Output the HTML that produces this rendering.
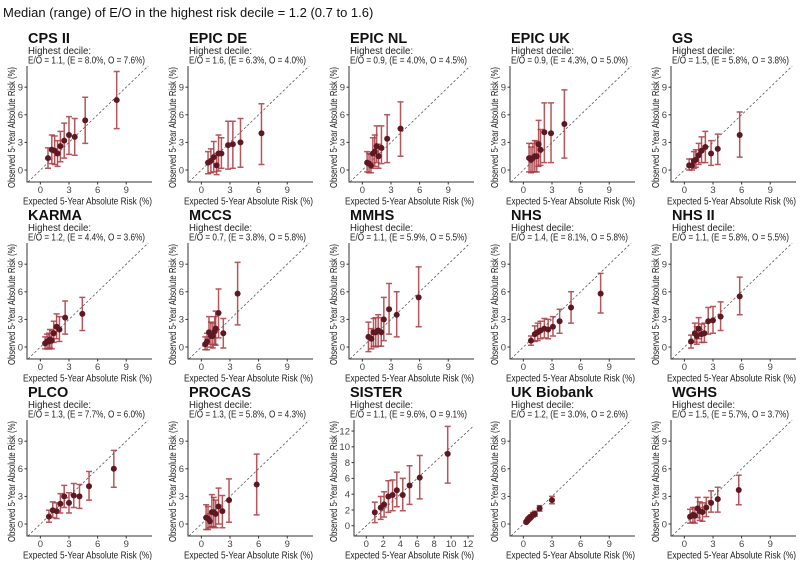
<!DOCTYPE html>
<html><head><meta charset="utf-8">
<style>
body{margin:0;background:#fff;width:800px;height:560px;overflow:hidden;font-family:"Liberation Sans",sans-serif;}
svg text{font-family:"Liberation Sans",sans-serif;}
</style></head>
<body>
<svg id="chart" width="800" height="560" viewBox="0 0 800 560" xmlns="http://www.w3.org/2000/svg">
<text x="3" y="17" font-size="13" fill="#111">Median (range) of E/O in the highest risk decile = 1.2 (0.7 to 1.6)</text>
</svg>
<script>
const cohorts = ["CPS II","EPIC DE","EPIC NL","EPIC UK","GS","KARMA","MCCS","MMHS","NHS","NHS II","PLCO","PROCAS","SISTER","UK Biobank","WGHS"];
const subtitles = ["E/O = 1.1, (E = 8.0%, O = 7.6%)","E/O = 1.6, (E = 6.3%, O = 4.0%)","E/O = 0.9, (E = 4.0%, O = 4.5%)","E/O = 0.9, (E = 4.3%, O = 5.0%)","E/O = 1.5, (E = 5.8%, O = 3.8%)","E/O = 1.2, (E = 4.4%, O = 3.6%)","E/O = 0.7, (E = 3.8%, O = 5.8%)","E/O = 1.1, (E = 5.9%, O = 5.5%)","E/O = 1.4, (E = 8.1%, O = 5.8%)","E/O = 1.1, (E = 5.8%, O = 5.5%)","E/O = 1.3, (E = 7.7%, O = 6.0%)","E/O = 1.3, (E = 5.8%, O = 4.3%)","E/O = 1.1, (E = 9.6%, O = 9.1%)","E/O = 1.2, (E = 3.0%, O = 2.6%)","E/O = 1.5, (E = 5.7%, O = 3.7%)"];
const expected = [
[0.8,1.2,1.5,1.8,2.1,2.5,3.0,3.6,4.7,8.0],
[0.7,1.0,1.3,1.6,1.8,2.1,2.8,3.3,4.1,6.3],
[0.5,0.7,0.9,1.1,1.3,1.5,1.7,2.0,2.6,4.0],
[0.6,0.8,1.0,1.2,1.4,1.6,1.8,2.2,2.9,4.3],
[0.5,0.8,1.0,1.2,1.5,1.8,2.2,2.8,3.5,5.8],
[0.5,0.7,0.9,1.0,1.2,1.4,1.7,2.0,2.6,4.4],
[0.4,0.6,0.8,1.0,1.2,1.4,1.5,1.8,2.3,3.8],
[0.64,0.95,1.17,1.4,1.66,1.98,2.25,2.8,3.6,5.9],
[0.8,1.2,1.5,1.8,2.2,2.6,3.1,3.8,5.0,8.1],
[0.7,1.1,1.3,1.5,1.8,2.1,2.5,3.0,3.8,5.8],
[0.9,1.3,1.7,2.1,2.5,3.0,3.5,4.1,5.1,7.7],
[0.5,0.7,0.9,1.1,1.3,1.5,1.8,2.2,2.9,5.8],
[1.0,1.7,2.1,2.6,3.1,3.6,4.3,5.1,6.3,9.6],
[0.3,0.4,0.5,0.6,0.7,0.8,1.0,1.2,1.7,3.0],
[0.6,0.9,1.1,1.4,1.6,1.9,2.3,2.8,3.5,5.7]];
const observed = [
[1.3,2.2,2.1,1.8,2.6,3.2,3.8,3.6,5.4,7.6],
[0.8,1.0,1.4,0.5,1.8,1.8,2.7,2.8,3.0,4.0],
[0.8,0.7,0.5,1.8,2.0,2.6,1.5,2.4,3.4,4.5],
[1.3,1.1,1.3,1.5,1.5,2.8,2.2,4.1,4.0,5.0],
[0.5,0.5,1.0,1.1,1.6,2.1,2.5,1.8,2.3,3.8],
[0.4,0.6,0.6,0.8,0.7,1.5,2.2,1.9,3.2,3.6],
[0.3,0.6,1.6,1.2,1.2,1.7,2.0,3.7,1.5,5.8],
[1.1,0.9,1.6,1.6,1.8,1.6,3.0,4.1,3.5,5.4],
[0.7,1.4,1.6,1.8,2.0,1.9,2.2,2.8,4.3,5.8],
[0.6,1.5,1.2,2.0,1.4,1.5,2.8,2.9,3.3,5.5],
[0.8,1.5,1.4,2.2,3.0,2.3,3.1,3.0,4.1,6.0],
[0.7,0.6,0.3,1.3,1.3,1.1,1.9,1.4,2.6,4.3],
[1.7,2.3,2.7,3.7,3.9,4.5,3.9,5.1,6.1,9.1],
[0.2,0.35,0.5,0.6,0.7,0.8,1.0,1.1,1.7,2.6],
[0.8,1.0,0.9,1.7,1.4,1.3,1.8,2.3,2.7,3.7]];
const lower = [
[0.2,0.7,0.6,0.4,0.9,1.3,1.7,1.6,2.9,4.5],
[-0.4,-0.3,-0.2,-0.5,-0.1,0.2,0.1,0.2,0.3,0.6],
[-0.2,-0.3,-0.3,0.2,0.4,0.8,0.2,0.7,0.8,1.5],
[-0.2,-0.3,-0.2,-0.2,-0.2,0.4,0.5,0.8,0.8,1.3],
[0,0,0.2,0.3,0.6,0.8,0.8,0.5,0.6,1.4],
[-0.2,-0.2,-0.2,-0.1,-0.2,0.5,0.9,0.6,1.4,1.8],
[-0.3,-0.3,0.3,0,-0.1,0.3,0.2,1.0,-0.1,2.4],
[-0.5,-0.2,0.1,0,0.1,0.1,0.7,1.4,1.1,2.2],
[0.2,0.6,0.7,0.9,1.0,0.9,1.2,1.5,2.6,3.7],
[-0.1,0.5,0.3,0.9,0.5,0.5,1.4,1.5,1.8,3.5],
[0.2,0.7,0.6,1.2,1.8,1.2,1.8,1.7,2.6,4.0],
[-0.6,-0.6,-0.4,-0.3,-0.3,-0.4,0,-0.4,0.2,1.0],
[0.4,0.8,1.1,1.7,1.9,2.4,1.9,2.7,3.4,5.4],
[0.1,0.2,0.3,0.4,0.5,0.6,0.75,0.85,1.4,2.2],
[0.1,0.2,0.1,0.7,0.4,0.3,0.8,1.3,1.3,2.1]];
const upper = [
[2.4,3.8,3.7,3.2,4.2,5.1,5.8,5.6,7.9,10.7],
[2.0,2.3,3.1,1.8,3.8,3.5,5.3,5.3,5.6,7.2],
[2.0,1.8,1.7,3.5,3.8,4.8,2.8,4.8,6.0,7.4],
[2.9,2.5,2.9,3.2,3.1,5.4,4.4,7.3,7.3,8.7],
[1.2,1.2,2.0,2.2,2.9,3.6,4.2,3.2,3.9,6.3],
[1.1,1.4,1.5,1.9,1.8,2.8,3.6,3.3,5.0,5.4],
[1.1,1.5,3.3,2.7,2.6,3.3,3.9,6.3,3.1,9.2],
[2.7,2.0,3.1,3.2,3.5,3.2,5.4,6.9,6.0,8.7],
[1.2,2.3,2.6,2.8,3.1,3.0,3.3,4.1,6.0,8.0],
[1.3,2.6,2.2,3.2,2.5,2.6,4.3,4.4,4.9,7.6],
[1.5,2.4,2.3,3.3,4.2,3.4,4.4,4.3,5.7,8.0],
[2.1,1.9,1.1,3.2,2.9,2.6,3.9,3.1,4.9,7.6],
[3.0,3.7,4.3,5.7,5.8,6.8,6.0,7.6,8.9,12.6],
[0.35,0.5,0.7,0.8,0.9,1.0,1.25,1.4,2.0,3.0],
[1.6,1.8,1.8,2.9,2.4,2.3,2.9,3.6,4.0,5.3]];
const ticksDefault = [0,3,6,9];
const ticksSister = [0,2,4,6,8,10,12];

const NS = "http://www.w3.org/2000/svg";
const svg = document.getElementById("chart");
function mk(tag, attrs, parent){
  const e = document.createElementNS(NS, tag);
  for (const k in attrs) e.setAttribute(k, attrs[k]);
  (parent||svg).appendChild(e); return e;
}
cohorts.forEach((name, i) => {
  const c = i % 5, r = Math.floor(i / 5);
  const sister = name === "SISTER";
  const L = 27 + 161*c + (sister ? 5 : 0), R = 152 + 161*c, T = 66 + 177*r, B = 182 + 177*r;
  const xd = sister ? [-1.45, 12.7] : [-1.4, 11.7];
  const yd = sister ? [-1.3, 13.4] : [-1.3, 11.3];
  const ticks = sister ? ticksSister : ticksDefault;
  const sx = v => L + (v - xd[0]) / (xd[1] - xd[0]) * (R - L);
  const sy = v => B - (v - yd[0]) / (yd[1] - yd[0]) * (B - T);
  const g = mk("g", {});
  
  
  const tx = 28 + 161*c;
  const t = mk("text", {x: tx, y: 43 + 177*r, "font-size": 14.5, "font-weight": "bold", fill: "#111"}, g);
  t.textContent = name;
  
  
  const s1 = mk("text", {x: tx, y: 54 + 177*r, "font-size": 10.5, fill: "#222", textLength: 63, lengthAdjust: "spacingAndGlyphs"}, g);
  s1.textContent = "Highest decile:";
  
  
  const s2 = mk("text", {x: tx, y: 63.5 + 177*r, "font-size": 10.5, fill: "#222", textLength: 117, lengthAdjust: "spacingAndGlyphs"}, g);
  s2.textContent = subtitles[i];
  
  
  const lo = Math.max(xd[0], yd[0]), hi = Math.min(xd[1], yd[1]);
  const d = mk("line", {x1: sx(lo), y1: sy(lo), x2: sx(hi), y2: sy(hi), stroke: "#555", "stroke-width": 0.8, "stroke-dasharray": "2.5,2"}, g);
  
  
  const ax = mk("path", {d: `M${L},${T} L${L},${B} L${R},${B}`, fill: "none", stroke: "#333", "stroke-width": 1}, g);
  
  
  ticks.forEach(v => {
    mk("line", {x1: sx(v), y1: B, x2: sx(v), y2: B + 2.5, stroke: "#333"}, g);
    const xl = mk("text", {x: sx(v), y: B + 11, "font-size": 9.5, fill: "#444", "text-anchor": "middle"}, g);
    xl.textContent = v;
    
    
    mk("line", {x1: L - 2.5, y1: sy(v), x2: L, y2: sy(v), stroke: "#333"}, g);
    const yl = mk("text", {x: L - 4, y: sy(v) + 3.3, "font-size": 9.5, fill: "#444", "text-anchor": "end"}, g);
    yl.textContent = v;
    
    
  });
  const xt = mk("text", {x: 23 + 161*c, y: B + 22.5, "font-size": 10.5, fill: "#222", textLength: 129, lengthAdjust: "spacingAndGlyphs"}, g);
  xt.textContent = "Expected 5-Year Absolute Risk (%)";
  
  
  const ycx = 15 + 161*c, ycy = 188 + 177*r;
  const yt = mk("text", {x: ycx, y: ycy, "font-size": 10.5, fill: "#222", textLength: 121, lengthAdjust: "spacingAndGlyphs", transform: `rotate(-90 ${ycx} ${ycy})`}, g);
  yt.textContent = "Observed 5-Year Absolute Risk (%)";
  
  
  expected[i].forEach((e, k) => {
    const x = sx(e);
    const eb = mk("path", {d: `M${x-3},${sy(lower[i][k])} h6 M${x},${sy(lower[i][k])} V${sy(upper[i][k])} M${x-3},${sy(upper[i][k])} h6`, stroke: "#a83a40", "stroke-opacity": 0.85, "stroke-width": 1.5, fill: "none"}, g);
    
    
  });
  expected[i].forEach((e, k) => {
    const p = mk("circle", {cx: sx(e), cy: sy(observed[i][k]), r: 3, fill: "#5e1822"}, g);
    
    
  });
});
</script>
</body></html>
